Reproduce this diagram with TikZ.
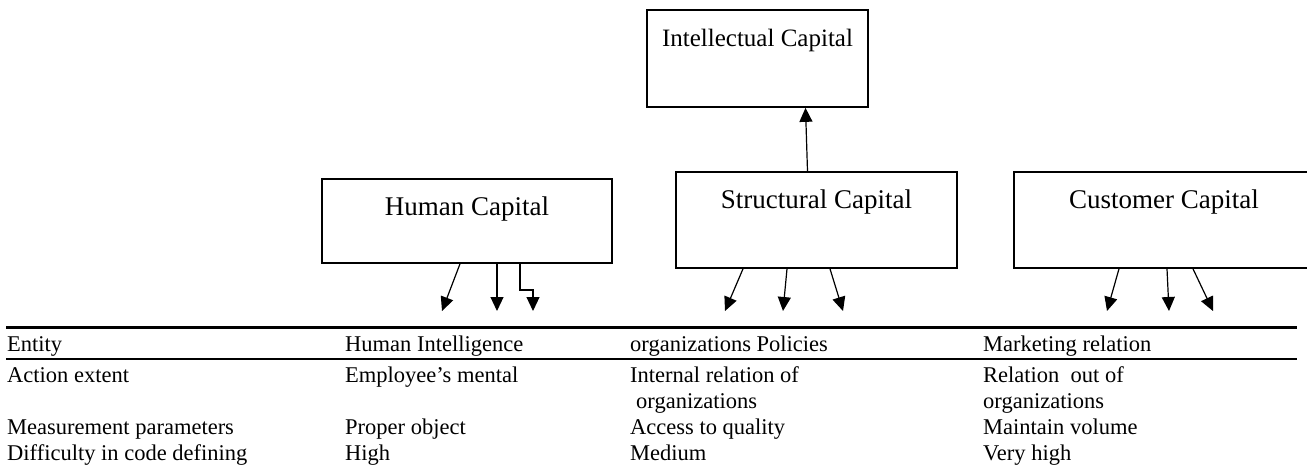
\documentclass[tikz,border=0pt]{standalone}
\usepackage{fontspec}
\setmainfont{Liberation Serif}
\usetikzlibrary{arrows.meta}
\newcommand{\boxfont}{\fontsize{27pt}{31pt}\selectfont}
\newcommand{\tabfont}{\fontsize{22.5pt}{27pt}\selectfont}
\begin{document}
\begin{tikzpicture}[x=1pt, y=-1pt, line join=miter,
		capbox/.style={draw, line width=1.7pt, inner xsep=0pt, inner ysep=17pt, text height=19pt, anchor=base, font=\boxfont},
		arr/.style={line width=1.2pt, -{Triangle[length=14pt,width=13pt]}},
		rule/.style={line width=2.2pt},
		cell/.style={anchor=base west, inner sep=0pt, font=\tabfont}]
			\useasboundingbox (0,0) rectangle (1307,474);
			% capital boxes
			\node[capbox, minimum width=221pt, text depth=44pt, font=\fontsize{25pt}{29pt}\selectfont] (intel) at (757.5,46) {Intellectual Capital};
			\node[capbox, minimum width=290pt, text depth=31pt] (human) at (467,215) {Human Capital};
			\node[capbox, minimum width=281pt, text depth=43pt] (struct) at (816.5,208) {Structural Capital};
			\node[capbox, minimum width=300pt, text depth=43pt] (cust) at (1164,208) {Customer Capital};
			\draw[arr] (struct.north -| 807.5,0) -- (intel.south -| 805.5,0);
			% arrow tips
			\coordinate (h1) at (442,311);
			\coordinate (h2) at (497,311);
			\coordinate (h3k) at (533,290);
			\coordinate (h3) at (533,311);
			\coordinate (s1) at (725,311);
			\coordinate (s2) at (783,311);
			\coordinate (s3) at (843,311);
			\coordinate (c1) at (1107,311);
			\coordinate (c2) at (1169,311);
			\coordinate (c3) at (1213,311);
			\draw[arr] (human.south -| 460,0) -- (h1);
			\draw[arr] (human.south -| 497,0) -- (h2);
			\draw[arr] (human.south -| 520,0) |- (h3k) -- (h3);
			\draw[arr] (struct.south -| 743,0) -- (s1);
			\draw[arr] (struct.south -| 787,0) -- (s2);
			\draw[arr] (struct.south -| 830,0) -- (s3);
			\draw[arr] (cust.south -| 1119,0) -- (c1);
			\draw[arr] (cust.south -| 1167,0) -- (c2);
			\draw[arr] (cust.south -| 1193,0) -- (c3);
			% table
			\draw[rule] (6,327.5)--(1297,327.5);
			\draw[rule] (6,359)--(1297,359);
			\node[cell] (ent) at (7,351) {Entity};
			\node[cell] (ent2) at (345,351) {Human Intelligence};
			\node[cell] (ent3) at (630,351) {organizations Policies};
			\node[cell] (ent4) at (983,351) {Marketing relation};
			\node[cell] (act) at (7,382) {Action extent};
			\node[cell] (act2) at (345,382) {Employee's mental};
			\node[cell] (act3) at (630,382) {Internal relation of};
			\node[cell] (act3b) at (636,408) {organizations};
			\node[cell] (act4) at (983,382) {Relation\ \ out of};
			\node[cell] (act4b) at (983,408) {organizations};
			\node[cell] (mea) at (7,434) {Measurement parameters};
			\node[cell] (mea2) at (345,434) {Proper object};
			\node[cell] (mea3) at (630,434) {Access to quality};
			\node[cell] (mea4) at (983,434) {Maintain volume};
			\node[cell] (dif) at (7,460) {Difficulty in code defining};
			\node[cell] (dif2) at (345,460) {High};
			\node[cell] (dif3) at (630,460) {Medium};
			\node[cell] (dif4) at (983,460) {Very high};
		\end{tikzpicture}
\end{document}
